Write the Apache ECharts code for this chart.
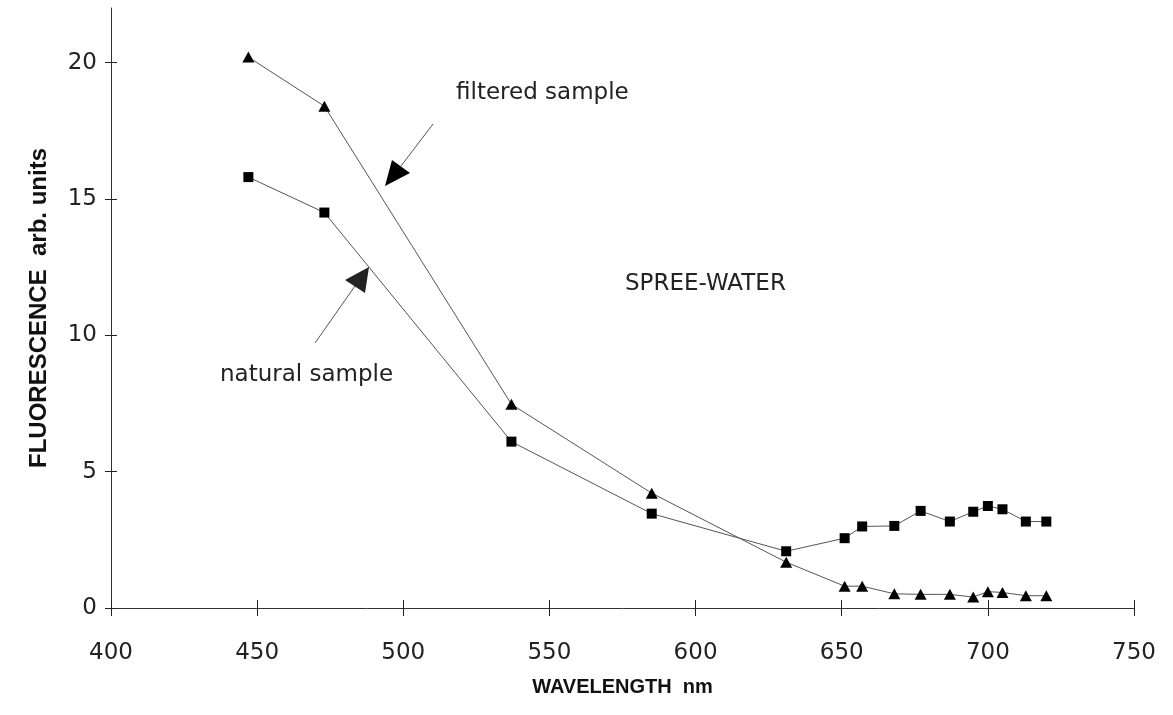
<!DOCTYPE html>
<html>
<head>
<meta charset="utf-8">
<script src="https://cdn.jsdelivr.net/npm/echarts@6/dist/echarts.min.js"></script>
<style>html,body{margin:0;padding:0;background:#fff;}#c{width:1173px;height:715px;}</style>
</head>
<body>
<div id="c"></div>
<script>
const wavelength = [447, 473, 537, 585, 631, 651, 657, 668, 677, 687, 695, 700, 705, 713, 720];
const natural =    [15.8, 14.5, 6.1, 3.46, 2.08, 2.56, 2.99, 3.01, 3.56, 3.17, 3.53, 3.74, 3.62, 3.17, 3.17];
const filtered =   [20.2, 18.4, 7.47, 4.21, 1.68, 0.8, 0.8, 0.52, 0.5, 0.5, 0.4, 0.6, 0.57, 0.45, 0.45];
const yTicks = [0, 5, 10, 15, 20];
const xName = 'WAVELENGTH  nm';
const yName = 'FLUORESCENCE  arb. units';

const regFont = 'DejaVu Sans';
const boldFont = 'Liberation Sans';

const chart = echarts.init(document.getElementById('c'), null, {renderer: 'canvas'});
const pairs = (ys) => wavelength.map((w, i) => [w, ys[i]]);

const baseX = {
  type: 'value', min: 400, max: 750, interval: 50, gridIndex: 0, position: 'bottom',
  splitLine: {show: false}
};
const baseY = {
  type: 'value', min: 0, max: 22, interval: 5, gridIndex: 0, position: 'left',
  splitLine: {show: false}
};

chart.setOption({
  animation: false,
  backgroundColor: '#ffffff',
  grid: {left: 111, right: 39, top: 8, bottom: 107, containLabel: false},
  xAxis: [
    Object.assign({}, baseX, {
      name: xName, nameLocation: 'middle', nameGap: 69,
      nameTextStyle: {fontFamily: boldFont, fontWeight: 'bold', fontSize: 20, color: '#111'},
      axisLine: {show: true, lineStyle: {color: '#333', width: 1}},
      axisTick: {show: true, inside: false, length: 8, lineStyle: {color: '#222'}},
      axisLabel: {show: true, margin: 34, fontFamily: regFont, fontSize: 23, color: '#222'}
    }),
    Object.assign({}, baseX, {
      axisLine: {show: false},
      axisTick: {show: true, inside: true, length: 8, lineStyle: {color: '#222'}},
      axisLabel: {show: false}
    })
  ],
  yAxis: [
    Object.assign({}, baseY, {
      name: yName, nameLocation: 'middle', nameGap: 60, nameRotate: 90,
      nameTextStyle: {fontFamily: boldFont, fontWeight: 'bold', fontSize: 24, color: '#111'},
      axisLine: {show: true, lineStyle: {color: '#333', width: 1}},
      axisTick: {show: true, inside: false, length: 6, customValues: yTicks, lineStyle: {color: '#222'}},
      axisLabel: {show: true, margin: 14, customValues: yTicks, fontFamily: regFont, fontSize: 23, color: '#222'}
    }),
    Object.assign({}, baseY, {
      axisLine: {show: false},
      axisTick: {show: true, inside: true, length: 6, customValues: yTicks, lineStyle: {color: '#222'}},
      axisLabel: {show: false}
    })
  ],
  series: [
    {
      name: 'filtered sample', type: 'line', xAxisIndex: 0, yAxisIndex: 0,
      data: pairs(filtered),
      symbol: 'triangle', symbolSize: [12, 11],
      itemStyle: {color: '#000'},
      lineStyle: {color: '#555', width: 1}
    },
    {
      name: 'natural sample', type: 'line', xAxisIndex: 0, yAxisIndex: 0,
      data: pairs(natural),
      symbol: 'rect', symbolSize: 10,
      itemStyle: {color: '#000'},
      lineStyle: {color: '#555', width: 1}
    }
  ],
  graphic: [
    {type: 'text', x: 456, y: 93, style: {text: 'filtered sample', fontFamily: regFont, fontSize: 23, fill: '#222', textVerticalAlign: 'middle'}},
    {type: 'line', shape: {x1: 433, y1: 124, x2: 401, y2: 166}, style: {stroke: '#555', lineWidth: 1}},
    {type: 'polygon', shape: {points: [[385, 186], [392, 160], [410, 173]]}, style: {fill: '#000'}},
    {type: 'text', x: 220, y: 375, style: {text: 'natural sample', fontFamily: regFont, fontSize: 23, fill: '#222', textVerticalAlign: 'middle'}},
    {type: 'line', shape: {x1: 315, y1: 343, x2: 355, y2: 286}, style: {stroke: '#555', lineWidth: 1}},
    {type: 'polygon', shape: {points: [[369, 267], [345, 280], [365, 293]]}, style: {fill: '#222'}},
    {type: 'text', x: 625, y: 284, style: {text: 'SPREE-WATER', fontFamily: regFont, fontSize: 23, fill: '#222', textVerticalAlign: 'middle'}}
  ]
});
</script>
</body>
</html>
